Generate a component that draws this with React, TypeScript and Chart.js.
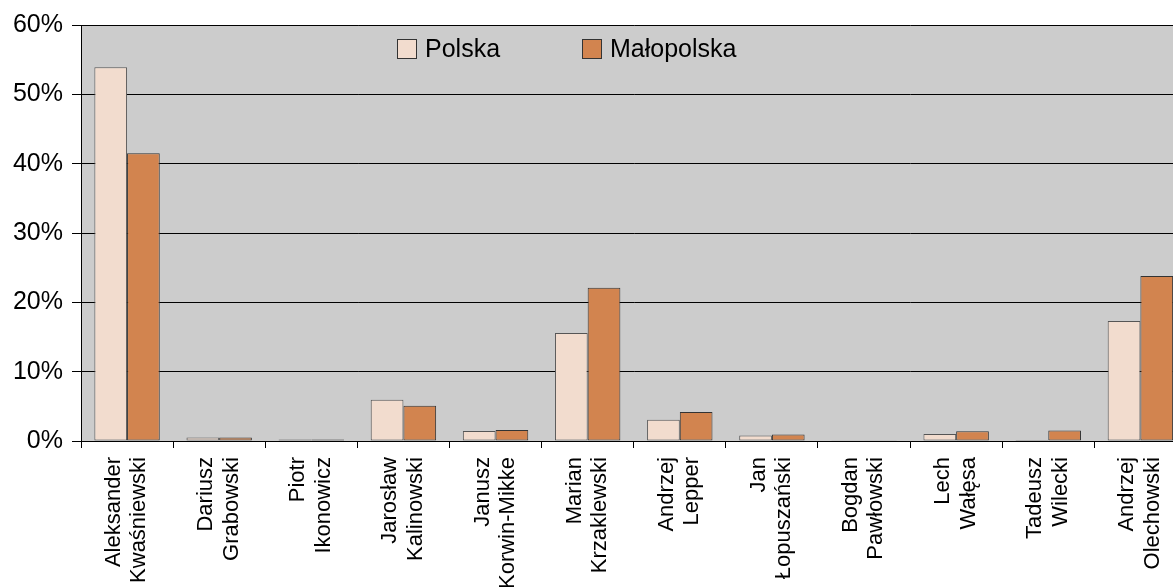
import React, { useEffect, useRef } from "react";
import { Chart, registerables } from "chart.js";

Chart.register(...registerables);

const categories: string[][] = [
  ["Aleksander", "Kwaśniewski"],
  ["Dariusz", "Grabowski"],
  ["Piotr", "Ikonowicz"],
  ["Jarosław", "Kalinowski"],
  ["Janusz", "Korwin-Mikke"],
  ["Marian", "Krzaklewski"],
  ["Andrzej", "Lepper"],
  ["Jan", "Łopuszański"],
  ["Bogdan", "Pawłowski"],
  ["Lech", "Wałęsa"],
  ["Tadeusz", "Wilecki"],
  ["Andrzej", "Olechowski"],
];

const polska: number[] = [53.9, 0.51, 0.22, 5.95, 1.43, 15.57, 3.05, 0.79, 0.1, 1.01, 0.16, 17.3];
const malopolska: number[] = [41.5, 0.5, 0.2, 5.1, 1.6, 22.1, 4.2, 0.95, 0.1, 1.4, 1.5, 23.8];

const seriesNames: string[] = ["Polska", "Małopolska"];
const yTicks: number[] = [0, 10, 20, 30, 40, 50, 60];

const FONT = "'Liberation Sans', Arial, sans-serif";
const COL_POLSKA = "#F2DCCE";
const COL_MALO = "#D2844F";

export default function App() {
  const ref = useRef<HTMLCanvasElement | null>(null);

  useEffect(() => {
    if (!ref.current) return;
    const bgPlugin = {
      id: "plotBg",
      beforeDraw(chart: any) {
        const { ctx, chartArea } = chart;
        ctx.save();
        ctx.fillStyle = "#CCCCCC";
        ctx.fillRect(chartArea.left, chartArea.top, chartArea.right - chartArea.left, chartArea.bottom - chartArea.top);
        ctx.restore();
      },
    };
    const legendPlugin = {
      id: "innerLegend",
      afterDraw(chart: any) {
        const { ctx } = chart;
        const starts = [397, 582];
        ctx.save();
        chart.data.datasets.forEach((ds: any, i: number) => {
          const x = starts[i];
          const y = 39;
          ctx.fillStyle = ds.backgroundColor;
          ctx.fillRect(x, y, 20, 20);
          ctx.strokeStyle = "#333";
          ctx.lineWidth = 1;
          ctx.strokeRect(x + 0.5, y + 0.5, 19, 19);
          ctx.fillStyle = "#000";
          ctx.font = `25px ${FONT}`;
          ctx.textBaseline = "middle";
          ctx.textAlign = "left";
          ctx.fillText(ds.label, x + 28, y + 11);
        });
        ctx.restore();
      },
    };

    const chart = new Chart(ref.current, {
      type: "bar",
      data: {
        labels: categories,
        datasets: [
          {
            label: seriesNames[0],
            data: polska,
            backgroundColor: COL_POLSKA,
            borderColor: "#555",
            borderWidth: 1,
            borderSkipped: false,
          },
          {
            label: seriesNames[1],
            data: malopolska,
            backgroundColor: COL_MALO,
            borderColor: "#333",
            borderWidth: 1,
            borderSkipped: false,
          },
        ],
      },
      options: {
        animation: false,
        responsive: false,
        devicePixelRatio: 1,
        layout: { padding: { top: 25, right: 0, left: 0, bottom: 0 } },
        datasets: { bar: { categoryPercentage: 0.71, barPercentage: 1.0 } },
        plugins: { legend: { display: false }, tooltip: { enabled: false } },
        scales: {
          x: {
            offset: true,
            grid: { display: true, drawOnChartArea: false, tickLength: 7, color: "#000", offset: true },
            border: { display: true, color: "#000", width: 1 },
            ticks: {
              color: "#000",
              font: { family: FONT, size: 22, lineHeight: 1.15 },
              maxRotation: 90,
              minRotation: 90,
              padding: 9,
              labelOffset: -13,
              autoSkip: false,
            },
            afterFit(scale: any) {
              scale.height = 146;
            },
          },
          y: {
            min: 0,
            max: 60,
            afterBuildTicks(scale: any) {
              scale.ticks = yTicks.map((v) => ({ value: v }));
            },
            grid: { color: "#000", tickLength: 9, lineWidth: 1 },
            border: { display: true, color: "#000", width: 1 },
            ticks: {
              color: "#000",
              font: { family: FONT, size: 25 },
              padding: 9,
              callback: (v: any) => `${v}%`,
            },
            afterFit(scale: any) {
              scale.width = 81;
            },
          },
        },
      },
      plugins: [bgPlugin, legendPlugin],
    });
    return () => chart.destroy();
  }, []);

  return (
    <div style={{ position: "fixed", left: 0, top: 0, width: 1173, height: 587, overflow: "hidden", background: "#fff" }}>
      <canvas ref={ref} width={1200} height={587} style={{ width: 1200, height: 587, display: "block" }} />
    </div>
  );
}
